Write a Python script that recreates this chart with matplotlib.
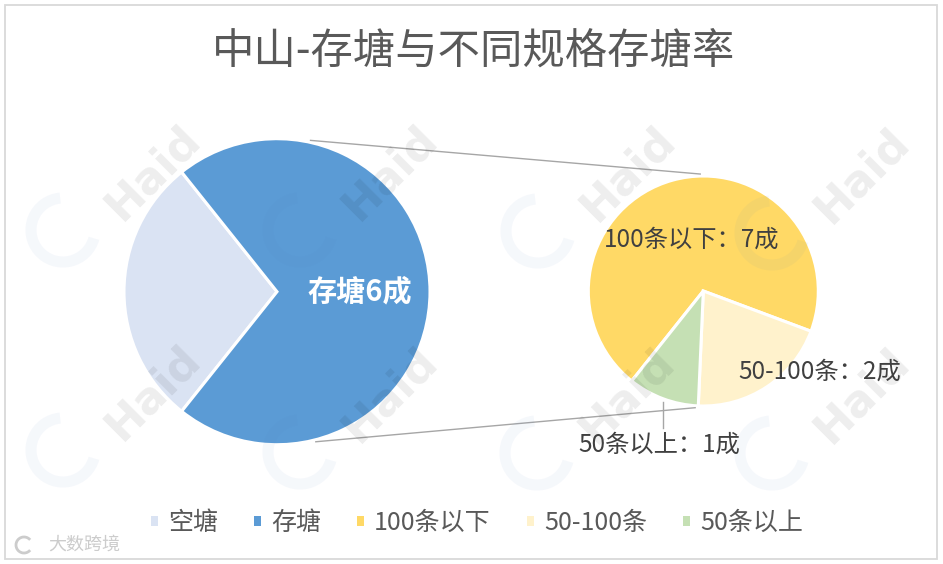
import matplotlib
matplotlib.use("Agg")
import matplotlib.pyplot as plt
from matplotlib.patches import Patch, Rectangle, Arc
import numpy as np

plt.rcParams['font.family'] = ['Noto Sans CJK SC', 'DejaVu Sans']

# ---------------- data ----------------
title = "中山-存塘与不同规格存塘率"
main_labels = ['空塘', '存塘']
sub_labels = ['100条以下', '50-100条', '50条以上']
empty_value = 4
sub_values = [7, 2, 1]
main_values = [empty_value, sum(sub_values)]
main_text = '存塘6成'
sub_texts = ['100条以下：7成', '50-100条：2成', '50条以上：1成']
main_colors = ['#dae3f3', '#5b9bd5']
sub_colors = ['#ffd966', '#fff2cc', '#c5e0b4']

W, H = 943, 564
def Y(py):
    return H - py

fig = plt.figure(figsize=(W / 100, H / 100), dpi=100)
ax = fig.add_axes([0, 0, 1, 1])

# border
ax.add_patch(Rectangle((4.5, Y(559)), 932, 554.5, fill=False, edgecolor='#d9d9d9', lw=1.3, zorder=0))

# main pie
c1 = (277, Y(291.7)); r1 = 153
frac_empty = main_values[0] / sum(main_values)
w1, _ = ax.pie(main_values, colors=main_colors, center=c1, radius=r1,
               startangle=180 - 180 * frac_empty, counterclock=True,
               wedgeprops=dict(edgecolor='white', linewidth=2.2))

# sub pie
c2 = (703.3, Y(291)); r2 = 115
w2, _ = ax.pie(sub_values, colors=sub_colors, center=c2, radius=r2,
               startangle=231.5, counterclock=False,
               wedgeprops=dict(edgecolor='white', linewidth=2.2))

# connector lines
def pt(c, r, a):
    return c[0] + r * np.cos(np.radians(a)), c[1] + r * np.sin(np.radians(a))
for a1, a2 in [(77.5, 91.5), (-75.5, 266.0)]:
    p1 = pt(c1, r1 + 2, a1)
    p2 = pt(c2, r2 + 2, a2)
    ax.plot([p1[0], p2[0]], [p1[1], p2[1]], color='#a6a6a6', lw=1.0, zorder=1)

# watermarks
haid_pos = [(153, 172), (390, 172), (628, 173), (862, 175),
            (153, 392), (390, 394), (627, 395), (862, 395)]
for hx, hy in haid_pos:
    ax.text(hx, Y(hy), 'Haid', rotation=45, fontsize=32, fontweight='bold',
            family='DejaVu Sans', color='black', alpha=0.07,
            ha='center', va='center', zorder=3)
    ax.add_patch(Arc((hx - 90, Y(hy + 58)), 64, 64, theta1=95, theta2=345,
                     lw=8, color='#4a7cc0', alpha=0.05, zorder=3))

# labels
ax.text(c1[0] + 83, c1[1], main_text, color='white', fontsize=21, fontweight='bold',
        ha='center', va='center', zorder=5)
ax.text(692, Y(240), sub_texts[0], color='#404040', fontsize=17.5, ha='center', va='center', zorder=5)
ax.text(819.5, Y(371.7), sub_texts[1], color='#404040', fontsize=17.5, ha='center', va='center', zorder=5)
ax.text(659, Y(445), sub_texts[2], color='#404040', fontsize=17.5, ha='center', va='center', zorder=5)
ax.plot([662.7, 662.7], [Y(401.7), Y(428)], color='#a6a6a6', lw=1.0, zorder=4)

# title
ax.text(474, Y(52), title, fontsize=30.5, color='#595959', ha='center', va='center')

# legend
handles = [Patch(facecolor=c, edgecolor='none') for c in main_colors + sub_colors]
leg = ax.legend(handles, main_labels + sub_labels, loc='center',
                bbox_to_anchor=(477 / W, Y(523) / H), ncol=5, frameon=False,
                fontsize=18, handlelength=0.28, handleheight=0.28,
                handletextpad=0.4, columnspacing=1.45, labelcolor='#595959',
                borderpad=0, borderaxespad=0)

# bottom-left watermark
ax.text(48, Y(545), '大数跨境', fontsize=13, color='#cccccc', ha='left', va='center')
ax.add_patch(Arc((24, Y(545)), 16, 16, theta1=40, theta2=320, lw=2, color='#cccccc'))

ax.set_xlim(0, W)
ax.set_ylim(0, H)
ax.set_aspect('equal')
ax.axis('off')

fig.savefig('out.png', dpi=100)
